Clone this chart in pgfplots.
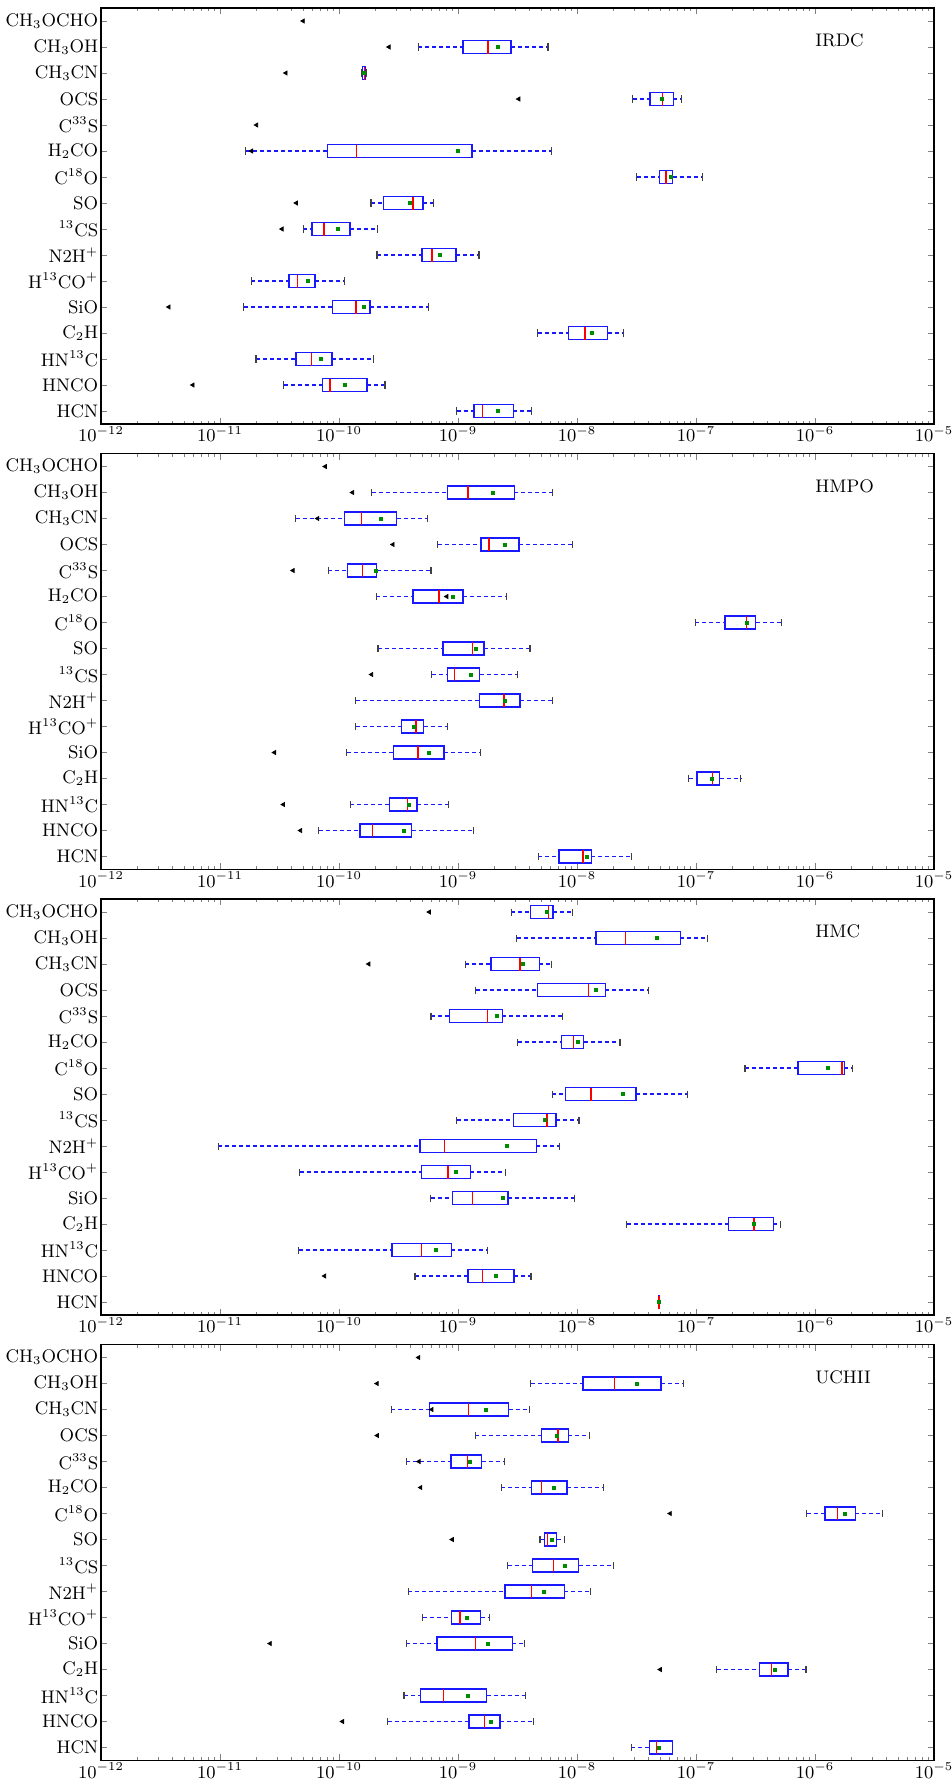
\documentclass[border=0pt]{standalone}
\usepackage{pgfplots}
\pgfplotsset{compat=1.18}
\usepgfplotslibrary{statistics}
\definecolor{bxblue}{rgb}{0.1,0.1,1}
\definecolor{mgreen}{rgb}{0,0.55,0}
\newcommand{\bp}[7]{\addplot[mgreen, mark options={draw=mgreen!60!black, fill=mgreen}, boxplot prepared={draw position=#1, lower whisker=#2, lower quartile=#3, median=#4, upper quartile=#5, upper whisker=#6, average=#7}] coordinates {};}
\pgfplotsset{
  boxplot/draw direction=x,
  boxplot/box extend=0.5,
  boxplot/whisker extend=0.27,
  boxplot/every box/.style={draw=bxblue, line width=0.7pt, fill=none},
  boxplot/every median/.style={red, line width=0.7pt},
  boxplot/every average/.style={/tikz/mark=square*, /tikz/mark size=0.75pt, draw=mgreen!60!black, fill=mgreen},
  boxplot/draw/lower whisker/.code={%
    \draw[bxblue, line width=0.6pt, dash pattern=on 2pt off 1.5pt]
      (boxplot cs:\pgfplotsboxplotvalue{lower whisker}) -- (boxplot cs:\pgfplotsboxplotvalue{lower quartile});
    \draw[black!75, line width=0.6pt]
      (boxplot whisker cs:\pgfplotsboxplotvalue{lower whisker},0) -- (boxplot whisker cs:\pgfplotsboxplotvalue{lower whisker},1);
  },
  boxplot/draw/upper whisker/.code={%
    \draw[bxblue, line width=0.6pt, dash pattern=on 2pt off 1.5pt]
      (boxplot cs:\pgfplotsboxplotvalue{upper quartile}) -- (boxplot cs:\pgfplotsboxplotvalue{upper whisker});
    \draw[black!75, line width=0.6pt]
      (boxplot whisker cs:\pgfplotsboxplotvalue{upper whisker},0) -- (boxplot whisker cs:\pgfplotsboxplotvalue{upper whisker},1);
  },
  outl/.style={only marks, mark=triangle*, mark size=1.15pt, mark options={rotate=90, black, fill=black}},
}
\newcommand{\ylabs}{CH$_3$OCHO, CH$_3$OH, CH$_3$CN, OCS, C$^{33}$S, H$_2$CO, C$^{18}$O, SO, $^{13}$CS, N2H$^+$, H$^{13}$CO$^+$, SiO, C$_2$H, HN$^{13}$C, HNCO, HCN}
\newcommand{\mticks}{2e-12,3e-12,4e-12,5e-12,6e-12,7e-12,8e-12,9e-12,2e-11,3e-11,4e-11,5e-11,6e-11,7e-11,8e-11,9e-11,2e-10,3e-10,4e-10,5e-10,6e-10,7e-10,8e-10,9e-10,2e-9,3e-9,4e-9,5e-9,6e-9,7e-9,8e-9,9e-9,2e-8,3e-8,4e-8,5e-8,6e-8,7e-8,8e-8,9e-8,2e-7,3e-7,4e-7,5e-7,6e-7,7e-7,8e-7,9e-7,2e-6,3e-6,4e-6,5e-6,6e-6,7e-6,8e-6,9e-6}
\begin{document}
\fontsize{9.1}{11}\selectfont
\begin{tikzpicture}
% ---------------- IRDC
\begin{axis}[xmode=log, xmin=1e-12, xmax=1e-5, ymin=0.5, ymax=16.5, y dir=reverse,
    scale only axis, width=416.5pt, height=208pt, ytick={1,...,16}, yticklabels/.expanded={\ylabs},
    xtick={1e-12,1e-11,1e-10,1e-9,1e-8,1e-7,1e-6,1e-5}, minor xtick/.expanded={\mticks},
    y tick label style={inner xsep=1.2pt}, x tick label style={inner ysep=1pt}, tick align=inside, major tick length=3.2pt, minor tick length=1.7pt,
    axis line style={line width=0.6pt}, anchor=north west, at={(0pt,0pt)}]
\bp{2}{4.63e-10}{1.10e-9}{1.79e-9}{2.80e-9}{5.71e-9}{2.17e-9}
\bp{3}{1.55e-10}{1.57e-10}{1.63e-10}{1.66e-10}{1.69e-10}{1.62e-10}
\bp{4}{2.95e-8}{4.12e-8}{5.26e-8}{6.45e-8}{7.59e-8}{5.2e-8}
\bp{6}{1.65e-11}{8.0e-11}{1.40e-10}{1.31e-9}{6.14e-9}{1.0e-9}
\bp{7}{3.18e-8}{4.92e-8}{5.60e-8}{6.36e-8}{1.14e-7}{6.11e-8}
\bp{8}{1.86e-10}{2.37e-10}{4.18e-10}{5.07e-10}{6.24e-10}{3.95e-10}
\bp{9}{5.02e-11}{5.93e-11}{7.46e-11}{1.24e-10}{2.11e-10}{9.78e-11}
\bp{10}{2.09e-10}{5.0e-10}{6.07e-10}{9.59e-10}{1.50e-9}{7.06e-10}
\bp{11}{1.83e-11}{3.81e-11}{4.50e-11}{6.27e-11}{1.11e-10}{5.53e-11}
\bp{12}{1.58e-11}{8.87e-11}{1.39e-10}{1.82e-10}{5.62e-10}{1.62e-10}
\bp{13}{4.68e-9}{8.45e-9}{1.17e-8}{1.81e-8}{2.46e-8}{1.34e-8}
\bp{14}{2.01e-11}{4.34e-11}{5.85e-11}{8.74e-11}{1.95e-10}{7.0e-11}
\bp{15}{3.44e-11}{7.31e-11}{8.40e-11}{1.72e-10}{2.44e-10}{1.13e-10}
\bp{16}{9.73e-10}{1.36e-9}{1.60e-9}{2.92e-9}{4.13e-9}{2.17e-9}
\addplot[outl] coordinates {(5.0e-11,1) (2.63e-10,2) (3.58e-11,3) (3.24e-9,4) (2.03e-11,5) (1.84e-11,6) (4.38e-11,8) (3.32e-11,9) (3.72e-12,12) (5.92e-12,15)};
\node[anchor=west, inner sep=0pt] at (axis cs:1e-6,1.75) {IRDC};
\end{axis}
% ---------------- HMPO
\begin{axis}[xmode=log, xmin=1e-12, xmax=1e-5, ymin=0.5, ymax=16.5, y dir=reverse,
    scale only axis, width=416.5pt, height=208pt, ytick={1,...,16}, yticklabels/.expanded={\ylabs},
    xtick={1e-12,1e-11,1e-10,1e-9,1e-8,1e-7,1e-6,1e-5}, minor xtick/.expanded={\mticks},
    y tick label style={inner xsep=1.2pt}, x tick label style={inner ysep=1pt}, tick align=inside, major tick length=3.2pt, minor tick length=1.7pt,
    axis line style={line width=0.6pt}, anchor=north west, at={(0pt,-222.75pt)}]
\bp{2}{1.88e-10}{8.18e-10}{1.21e-9}{2.98e-9}{6.21e-9}{1.97e-9}
\bp{3}{4.32e-11}{1.11e-10}{1.55e-10}{3.06e-10}{5.55e-10}{2.26e-10}
\bp{4}{6.78e-10}{1.56e-9}{1.82e-9}{3.26e-9}{9.10e-9}{2.46e-9}
\bp{5}{8.11e-11}{1.18e-10}{1.58e-10}{2.07e-10}{5.94e-10}{2.05e-10}
\bp{6}{2.06e-10}{4.18e-10}{6.92e-10}{1.10e-9}{2.55e-9}{9.01e-10}
\bp{7}{9.85e-8}{1.76e-7}{2.67e-7}{3.18e-7}{5.20e-7}{2.68e-7}
\bp{8}{2.13e-10}{7.46e-10}{1.32e-9}{1.66e-9}{4.03e-9}{1.41e-9}
\bp{9}{6.03e-10}{8.13e-10}{9.39e-10}{1.52e-9}{3.18e-9}{1.29e-9}
\bp{10}{1.38e-10}{1.51e-9}{2.44e-9}{3.33e-9}{6.25e-9}{2.5e-9}
\bp{11}{1.38e-10}{3.35e-10}{4.45e-10}{5.14e-10}{8.18e-10}{4.29e-10}
\bp{12}{1.16e-10}{2.86e-10}{4.61e-10}{7.62e-10}{1.55e-9}{5.70e-10}
\bp{13}{8.69e-8}{1.02e-7}{1.38e-7}{1.58e-7}{2.38e-7}{1.35e-7}
\bp{14}{1.24e-10}{2.65e-10}{3.77e-10}{4.51e-10}{8.29e-10}{3.85e-10}
\bp{15}{6.76e-11}{1.50e-10}{1.91e-10}{4.09e-10}{1.36e-9}{3.52e-10}
\bp{16}{4.74e-9}{7.08e-9}{1.12e-8}{1.32e-8}{2.89e-8}{1.22e-8}
\addplot[outl] coordinates {(7.67e-11,1) (1.30e-10,2) (6.62e-11,3) (2.84e-10,4) (4.11e-11,5) (8.05e-10,6) (1.88e-10,9) (2.87e-11,12) (3.41e-11,14) (4.75e-11,15)};
\node[anchor=west, inner sep=0pt] at (axis cs:1e-6,1.75) {HMPO};
\end{axis}
% ---------------- HMC
\begin{axis}[xmode=log, xmin=1e-12, xmax=1e-5, ymin=0.5, ymax=16.5, y dir=reverse,
    scale only axis, width=416.5pt, height=208pt, ytick={1,...,16}, yticklabels/.expanded={\ylabs},
    xtick={1e-12,1e-11,1e-10,1e-9,1e-8,1e-7,1e-6,1e-5}, minor xtick/.expanded={\mticks},
    y tick label style={inner xsep=1.2pt}, x tick label style={inner ysep=1pt}, tick align=inside, major tick length=3.2pt, minor tick length=1.7pt,
    axis line style={line width=0.6pt}, anchor=north west, at={(0pt,-445.5pt)}]
\bp{1}{2.81e-9}{4.06e-9}{5.74e-9}{6.27e-9}{9.23e-9}{5.62e-9}
\bp{2}{3.11e-9}{1.44e-8}{2.56e-8}{7.39e-8}{1.25e-7}{4.66e-8}
\bp{3}{1.15e-9}{1.89e-9}{3.33e-9}{4.84e-9}{6.10e-9}{3.49e-9}
\bp{4}{1.41e-9}{4.65e-9}{1.25e-8}{1.73e-8}{3.96e-8}{1.43e-8}
\bp{5}{5.93e-10}{8.44e-10}{1.78e-9}{2.36e-9}{7.54e-9}{2.14e-9}
\bp{6}{3.18e-9}{7.38e-9}{9.35e-9}{1.14e-8}{2.30e-8}{1.01e-8}
\bp{7}{2.58e-7}{7.21e-7}{1.69e-6}{1.77e-6}{2.08e-6}{1.29e-6}
\bp{8}{6.22e-9}{8.0e-9}{1.31e-8}{3.14e-8}{8.48e-8}{2.44e-8}
\bp{9}{9.73e-10}{2.92e-9}{5.58e-9}{6.67e-9}{1.04e-8}{5.36e-9}
\bp{10}{9.68e-12}{4.80e-10}{7.73e-10}{4.55e-9}{7.08e-9}{2.60e-9}
\bp{11}{4.66e-11}{4.93e-10}{8.23e-10}{1.27e-9}{2.51e-9}{9.59e-10}
\bp{12}{5.90e-10}{8.95e-10}{1.32e-9}{2.63e-9}{9.55e-9}{2.37e-9}
\bp{13}{2.61e-8}{1.87e-7}{3.08e-7}{4.48e-7}{5.13e-7}{3.05e-7}
\bp{14}{4.59e-11}{2.80e-10}{4.93e-10}{8.82e-10}{1.76e-9}{6.50e-10}
\bp{15}{4.36e-10}{1.21e-9}{1.60e-9}{2.96e-9}{4.11e-9}{2.08e-9}
\bp{16}{4.86e-8}{4.87e-8}{4.89e-8}{4.91e-8}{4.92e-8}{4.89e-8}
\addplot[outl] coordinates {(5.74e-10,1) (1.78e-10,3) (7.57e-11,15)};
\node[anchor=west, inner sep=0pt] at (axis cs:1e-6,1.75) {HMC};
\end{axis}
% ---------------- UCHII
\begin{axis}[xmode=log, xmin=1e-12, xmax=1e-5, ymin=0.5, ymax=16.5, y dir=reverse,
    scale only axis, width=416.5pt, height=208pt, ytick={1,...,16}, yticklabels/.expanded={\ylabs},
    xtick={1e-12,1e-11,1e-10,1e-9,1e-8,1e-7,1e-6,1e-5}, minor xtick/.expanded={\mticks},
    y tick label style={inner xsep=1.2pt}, x tick label style={inner ysep=1pt}, tick align=inside, major tick length=3.2pt, minor tick length=1.7pt,
    axis line style={line width=0.6pt}, anchor=north west, at={(0pt,-668.25pt)}]
\bp{2}{4.08e-9}{1.12e-8}{2.06e-8}{5.09e-8}{7.80e-8}{3.16e-8}
\bp{3}{2.76e-10}{5.74e-10}{1.23e-9}{2.67e-9}{3.96e-9}{1.71e-9}
\bp{4}{1.40e-9}{5.01e-9}{6.90e-9}{8.45e-9}{1.28e-8}{6.8e-9}
\bp{5}{3.69e-10}{8.77e-10}{1.20e-9}{1.58e-9}{2.47e-9}{1.27e-9}
\bp{6}{2.32e-9}{4.14e-9}{5.01e-9}{8.23e-9}{1.67e-8}{6.40e-9}
\bp{7}{8.53e-7}{1.21e-6}{1.54e-6}{2.18e-6}{3.68e-6}{1.80e-6}
\bp{8}{4.88e-9}{5.32e-9}{5.66e-9}{6.75e-9}{7.84e-9}{6.10e-9}
\bp{9}{2.61e-9}{4.25e-9}{6.36e-9}{1.03e-8}{2.02e-8}{7.89e-9}
\bp{10}{3.82e-10}{2.49e-9}{4.14e-9}{7.83e-9}{1.29e-8}{5.28e-9}
\bp{11}{5.07e-10}{8.82e-10}{1.04e-9}{1.55e-9}{1.85e-9}{1.19e-9}
\bp{12}{3.69e-10}{6.64e-10}{1.40e-9}{2.86e-9}{3.60e-9}{1.79e-9}
\bp{13}{1.49e-7}{3.41e-7}{4.30e-7}{5.92e-7}{8.42e-7}{4.63e-7}
\bp{14}{3.52e-10}{4.86e-10}{7.58e-10}{1.74e-9}{3.72e-9}{1.20e-9}
\bp{15}{2.56e-10}{1.24e-9}{1.67e-9}{2.25e-9}{4.33e-9}{1.90e-9}
\bp{16}{2.87e-8}{4.06e-8}{4.66e-8}{6.32e-8}{6.32e-8}{4.85e-8}
\addplot[outl] coordinates {(4.67e-10,1) (2.09e-10,2) (6.03e-10,3) (2.10e-10,4) (4.70e-10,5) (4.86e-10,6) (6.07e-8,7) (8.95e-10,8) (2.64e-11,12) (5.01e-8,13) (1.07e-10,15)};
\node[anchor=west, inner sep=0pt] at (axis cs:1e-6,1.75) {UCHII};
\end{axis}
\pgfresetboundingbox
\path[use as bounding box] (-50.5pt,4pt) rectangle (425.5pt,-887.5pt);
\end{tikzpicture}
\end{document}
